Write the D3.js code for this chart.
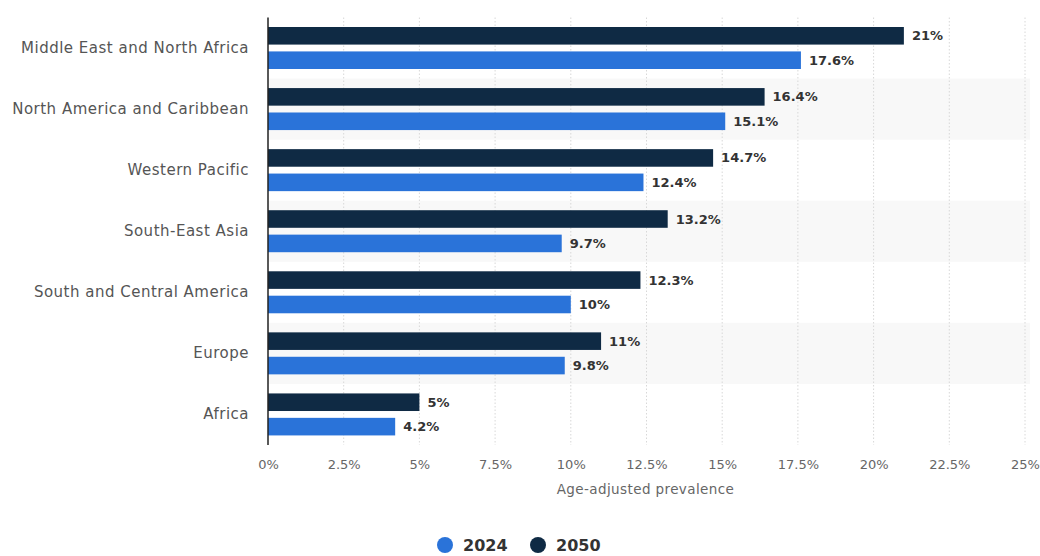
<!DOCTYPE html>
<html>
<head>
<meta charset="utf-8">
<script src="https://cdn.jsdelivr.net/npm/d3@7"></script>
<style>
  body { margin: 0; background: #fff; }
  svg { font-family: "DejaVu Sans", Verdana, sans-serif; }
</style>
</head>
<body>
<svg id="chart" width="1040" height="556"></svg>
<script>
// data
var regions = ["Middle East and North Africa", "North America and Caribbean", "Western Pacific",
  "South-East Asia", "South and Central America", "Europe", "Africa"]
var years = ["2050", "2024"]
var values2024 = [17.6, 15.1, 12.4, 9.7, 10, 9.8, 4.2]
var values2050 = [21, 16.4, 14.7, 13.2, 12.3, 11, 5]
var xTicks = [0, 2.5, 5, 7.5, 10, 12.5, 15, 17.5, 20, 22.5, 25]

var colors = {"2024": "#2a73d9", "2050": "#0f2a44"}

var svg = d3.select("#chart")
var margin = {top: 17.5, left: 268, right: 15, bottom: 111}
var height = 556 - margin.top - margin.bottom

var g = svg.append("g").attr("transform", `translate(${margin.left},${margin.top})`)

var x = d3.scaleLinear().domain([0, 25]).range([0, 757])
var y = d3.scaleBand().domain(regions).range([0, height])
var yInner = d3.scaleBand().domain(years).range([9.5, 51.5]).paddingInner(0.28)

// alternating stripes
g.selectAll("rect.stripe")
  .data(regions.filter((d, i) => i % 2 == 1))
  .join("rect")
  .attr("class", "stripe")
  .attr("x", 0)
  .attr("y", d => y(d))
  .attr("width", 762)
  .attr("height", y.bandwidth())
  .attr("fill", "#f8f8f8")

// dotted grid lines
g.selectAll("line.grid")
  .data(xTicks.slice(1))
  .join("line")
  .attr("class", "grid")
  .attr("x1", d => x(d)).attr("x2", d => x(d))
  .attr("y1", 0).attr("y2", height)
  .attr("stroke", "#d8d8d8")
  .attr("stroke-dasharray", "1.5 2")

var rows = regions.map((r, i) => ({region: r, "2024": values2024[i], "2050": values2050[i]}))

var groups = g.selectAll("g.row")
  .data(rows)
  .join("g")
  .attr("class", "row")
  .attr("transform", d => `translate(0,${y(d.region)})`)

groups.selectAll("rect")
  .data(d => years.map(k => ({year: k, value: d[k]})))
  .join("rect")
  .attr("x", 0)
  .attr("y", d => yInner(d.year))
  .attr("width", d => x(d.value))
  .attr("height", yInner.bandwidth())
  .attr("fill", d => colors[d.year])

groups.selectAll("text")
  .data(d => years.map(k => ({year: k, value: d[k]})))
  .join("text")
  .attr("x", d => x(d.value) + 8)
  .attr("y", d => yInner(d.year) + yInner.bandwidth() / 2)
  .attr("dy", "0.35em")
  .attr("font-size", 13)
  .attr("font-weight", "bold")
  .attr("fill", "#333")
  .text(d => d.value + "%")

// category labels
var yAxis = g.append("g").call(d3.axisLeft(y).tickSize(0).tickPadding(19))
yAxis.select(".domain").remove()
yAxis.selectAll("text")
  .attr("font-size", 15)
  .attr("letter-spacing", "0.5px")
  .attr("font-family", "DejaVu Sans, Verdana, sans-serif")
  .attr("fill", "#555")

// vertical axis line
g.append("line")
  .attr("x1", 0).attr("x2", 0)
  .attr("y1", 0).attr("y2", height)
  .attr("stroke", "#222")
  .attr("stroke-width", 1.5)

// x axis
var xAxis = g.append("g")
  .attr("transform", `translate(0,${height})`)
  .call(d3.axisBottom(x).tickValues(xTicks).tickSize(0).tickPadding(15).tickFormat(d => d + "%"))
xAxis.select(".domain").remove()
xAxis.selectAll("text")
  .attr("font-size", 13)
  .attr("font-family", "DejaVu Sans, Verdana, sans-serif")
  .attr("fill", "#666")

g.append("text")
  .attr("x", x(12.5) - 1)
  .attr("y", height + 49)
  .attr("text-anchor", "middle")
  .attr("font-size", 13.5)
  .attr("letter-spacing", "0.4px")
  .attr("fill", "#666")
  .text("Age-adjusted prevalence")

// legend
var legendItems = [{label: "2024", cx: 445}, {label: "2050", cx: 538}]
var legend = svg.selectAll("g.legend")
  .data(legendItems)
  .join("g")
  .attr("class", "legend")
  .attr("transform", d => `translate(${d.cx},545)`)
legend.append("circle").attr("r", 8).attr("fill", d => colors[d.label])
legend.append("text")
  .attr("x", 18)
  .attr("dy", "0.35em")
  .attr("font-size", 16)
  .attr("font-weight", "bold")
  .attr("fill", "#333")
  .text(d => d.label)
</script>
</body>
</html>
